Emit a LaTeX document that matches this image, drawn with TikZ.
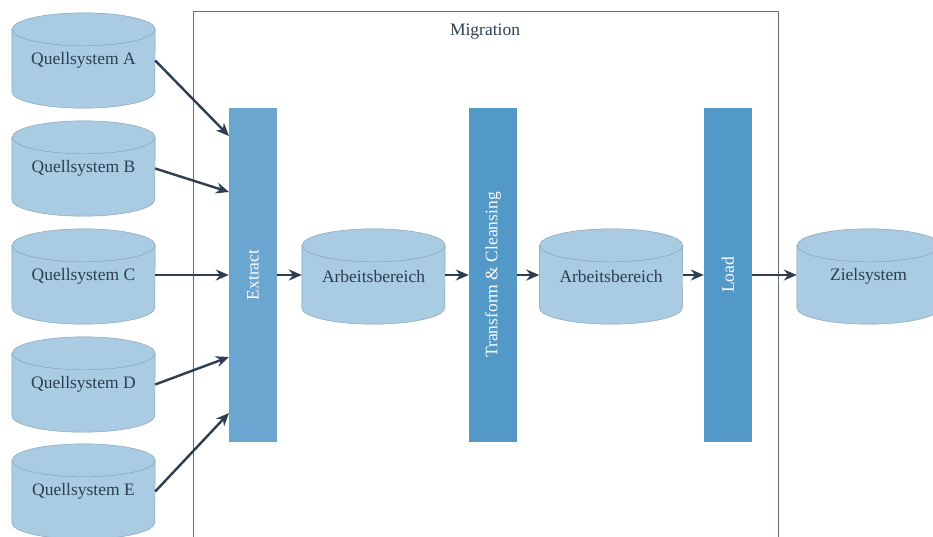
\documentclass[tikz,border=0pt]{standalone}
\usepackage{fontspec}
\setmainfont{Liberation Serif}
\usetikzlibrary{arrows.meta,backgrounds}

\definecolor{cylfill}{HTML}{A9CCE3}
\definecolor{cylline}{HTML}{7F9AAF}
\definecolor{darktext}{HTML}{2C3E50}
\definecolor{extractblue}{HTML}{6AA6CF}
\definecolor{stageblue}{HTML}{5299C8}
\definecolor{framegray}{HTML}{5D6D7E}

\tikzset{
	cyl/.style={rectangle, minimum width=143pt, minimum height=95pt, inner sep=0pt, text=darktext, font=\fontsize{17.5}{20}\selectfont},
	stage/.style={rectangle, fill=stageblue, minimum width=48pt, minimum height=334pt, inner sep=0pt, text=white, font=\fontsize{17.5}{20}\selectfont},
	flow/.style={draw=darktext, line width=2.4pt, -{Stealth[length=13pt,width=11pt]}}
}

\begin{document}
\begin{tikzpicture}[x=1pt, y=-1pt]
		\useasboundingbox (0,0) rectangle (933,536);
		\draw[framegray, line width=1pt] (193,545) -- (193,11) -- (778,11) -- (778,545);
		\node[text=darktext, font=\fontsize{17.5}{20}\selectfont] (mig) at (485,31.5) {Migration};

		\node[cyl] (qa) at (83.5,60.5) {Quellsystem A};
		\node[cyl] (qb) at (83.5,168.5) {Quellsystem B};
		\node[cyl] (qc) at (83.5,276.5) {Quellsystem C};
		\node[cyl] (qd) at (83.5,384.5) {Quellsystem D};
		\node[cyl] (qe) at (83.5,491.5) {Quellsystem E};

		\node[stage, fill=extractblue] (ex) at (253,275) {\rotatebox{90}{Extract}};
		\node[cyl] (ab1) at (373.5,276.5) {Arbeitsbereich};
		\node[stage] (tr) at (493,275) {\rotatebox{90}{Transform \& Cleansing}};
		\node[cyl] (ab2) at (611,276.5) {Arbeitsbereich};
		\node[stage] (ld) at (728,275) {\rotatebox{90}{Load}};
		\node[cyl] (ziel) at (868.5,276.5) {Zielsystem};

		% cylinder bodies behind the labels
		\begin{scope}[on background layer]
			\foreach \n in {qa,qb,qc,qd,qe,ab1,ab2,ziel} {
				\draw[cylline, fill=cylfill] ([yshift=-16.5pt]\n.north west) -- ([yshift=16.5pt]\n.south west) arc (180:360:71.5pt and 16.5pt) -- ([yshift=-16.5pt]\n.north east) arc (0:180:71.5pt and 16.5pt) -- cycle;
				\draw[cylline] ([yshift=-16.5pt]\n.north east) arc (0:-180:71.5pt and 16.5pt);
			}
		\end{scope}

		\coordinate (ea) at (229,136);
		\coordinate (eb) at (229,192);
		\coordinate (ed) at (229,357);
		\coordinate (ee) at (229,413);

		\draw[flow] (qa.east) -- (ea);
		\draw[flow] (qb.east) -- (eb);
		\draw[flow] (qc.east |- ex.west) -- (ex.west);
		\draw[flow] (qd.east) -- (ed);
		\draw[flow] (qe.east) -- (ee);
		\draw[flow] (ex.east) -- (ab1.west |- ex.east);
		\draw[flow] (ab1.east |- tr.west) -- (tr.west);
		\draw[flow] (tr.east) -- (ab2.west |- tr.east);
		\draw[flow] (ab2.east |- ld.west) -- (ld.west);
		\draw[flow] (ld.east) -- (ziel.west |- ld.east);
	\end{tikzpicture}
\end{document}
